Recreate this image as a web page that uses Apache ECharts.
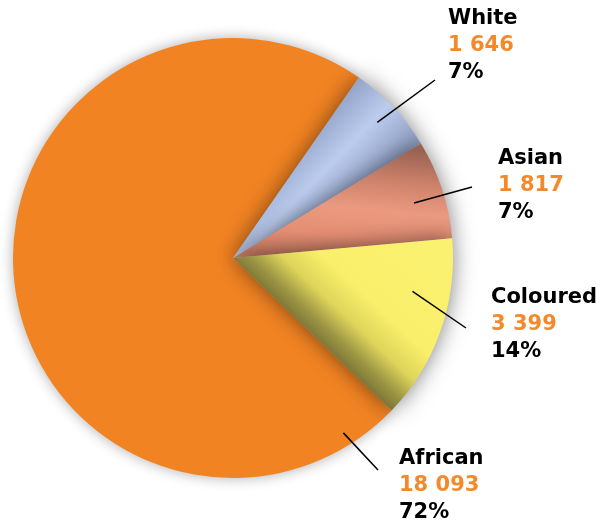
<!DOCTYPE html>
<html>
<head>
<meta charset="utf-8">
<script src="https://cdn.jsdelivr.net/npm/echarts@6/dist/echarts.min.js"></script>
<style>
html,body{margin:0;padding:0;background:#fff;}
#c{width:603px;height:527px;}
</style>
</head>
<body>
<div id="c"></div>
<script>
// ---- data ----
var groups = ['African', 'White', 'Asian', 'Coloured'];
var populations = [18093, 1646, 1817, 3399];
var shareLabels = ['72%', '7%', '7%', '14%'];

// ---- styling (not data) ----
var CX = 233, CY = 258, R = 220, START = -43.9;
var FONT = 'DejaVu Sans';
var labelPos = { African: [399, 445], White: [448, 5], Asian: [498, 145], Coloured: [491, 284] };
var lineEnd = { African: [378, 470], White: [435, 80], Asian: [472, 187], Coloured: [466, 328] };
// where inside each slice the leader line starts: [fraction along slice angle, fraction of radius]
var lineAnchor = { African: [0.053, 0.94], White: [0.5, 0.9], Asian: [0.55, 0.86], Coloured: [0.32, 0.83] };
var fills = {
  African: '#F28322',
  White: { type: 'linear', x: 0.25, y: 0.15, x2: 0.85, y2: 0.75, colorStops: [
    { offset: 0, color: '#6F7D9B' }, { offset: 0.28, color: '#98A9CD' }, { offset: 0.5, color: '#BCCCEF' },
    { offset: 0.72, color: '#98A9CD' }, { offset: 1, color: '#74829F' }] },
  Asian: { type: 'linear', x: 0.5, y: 0, x2: 0.45, y2: 1, colorStops: [
    { offset: 0, color: '#9A6252' }, { offset: 0.3, color: '#D0836B' }, { offset: 0.55, color: '#EA9A80' },
    { offset: 0.8, color: '#E58E73' }, { offset: 1, color: '#C77B63' }] },
  Coloured: { type: 'linear', x: 0.81, y: -0.05, x2: 0.36, y2: 0.56, colorStops: [
    { offset: 0, color: '#FAF170' }, { offset: 0.55, color: '#F9EF6A' }, { offset: 0.75, color: '#DDD45A' },
    { offset: 0.9, color: '#9C9544' }, { offset: 1, color: '#7E7838' }] }
};

function fmtNum(v) { return String(v).replace(/\B(?=(\d{3})+(?!\d))/g, ' '); }

var total = populations.reduce(function (a, b) { return a + b; }, 0);
var anchors = [];
(function () {
  var cum = 0;
  for (var i = 0; i < populations.length; i++) {
    var an = lineAnchor[groups[i]];
    var ang = (START - (cum + populations[i] * an[0]) / total * 360) * Math.PI / 180;
    anchors.push([CX + an[1] * R * Math.cos(ang), CY - an[1] * R * Math.sin(ang)]);
    cum += populations[i];
  }
})();

var sliceData = groups.map(function (g, i) {
  var small = g !== 'African';
  return {
    name: g,
    value: populations[i],
    itemStyle: {
      color: fills[g],
      shadowBlur: small ? 22 : 14,
      shadowColor: small ? 'rgba(0,0,0,0.5)' : 'rgba(0,0,0,0.32)'
    }
  };
});
var labelData = groups.map(function (g, i) { return { name: g, value: populations[i] }; });

var chart = echarts.init(document.getElementById('c'), null, { renderer: 'canvas' });
chart.setOption({
  animation: false,
  backgroundColor: '#ffffff',
  series: [{
    type: 'pie',
    z: 1,
    center: [CX, CY],
    radius: [0, R],
    startAngle: START,
    clockwise: true,
    data: sliceData,
    label: { show: false },
    labelLine: { show: false },
    silent: true
  }, {
    type: 'pie',
    z: 5,
    center: [CX, CY],
    radius: [0, R],
    startAngle: START,
    clockwise: true,
    avoidLabelOverlap: false,
    silent: true,
    data: labelData,
    itemStyle: { color: 'rgba(0,0,0,0)' },
    label: {
      show: true,
      position: 'outside',
      formatter: function (p) {
        return '{n|' + p.name + '}\n{v|' + fmtNum(p.value) + '}\n{p|' + shareLabels[p.dataIndex] + '}';
      },
      rich: {
        n: { fontFamily: FONT, fontSize: 21, fontWeight: 'bold', color: '#000', lineHeight: 27 },
        v: { fontFamily: FONT, fontSize: 21, fontWeight: 'bold', color: '#F3892B', lineHeight: 27 },
        p: { fontFamily: FONT, fontSize: 21, fontWeight: 'bold', color: '#000', lineHeight: 27 }
      }
    },
    labelLine: { show: true, lineStyle: { color: '#000', width: 1.5 } },
    labelLayout: function (params) {
      var name = groups[params.dataIndex];
      return {
        x: labelPos[name][0],
        y: labelPos[name][1],
        align: 'left',
        verticalAlign: 'top',
        labelLinePoints: [anchors[params.dataIndex], lineEnd[name], lineEnd[name]]
      };
    }
  }]
});
</script>
</body>
</html>
